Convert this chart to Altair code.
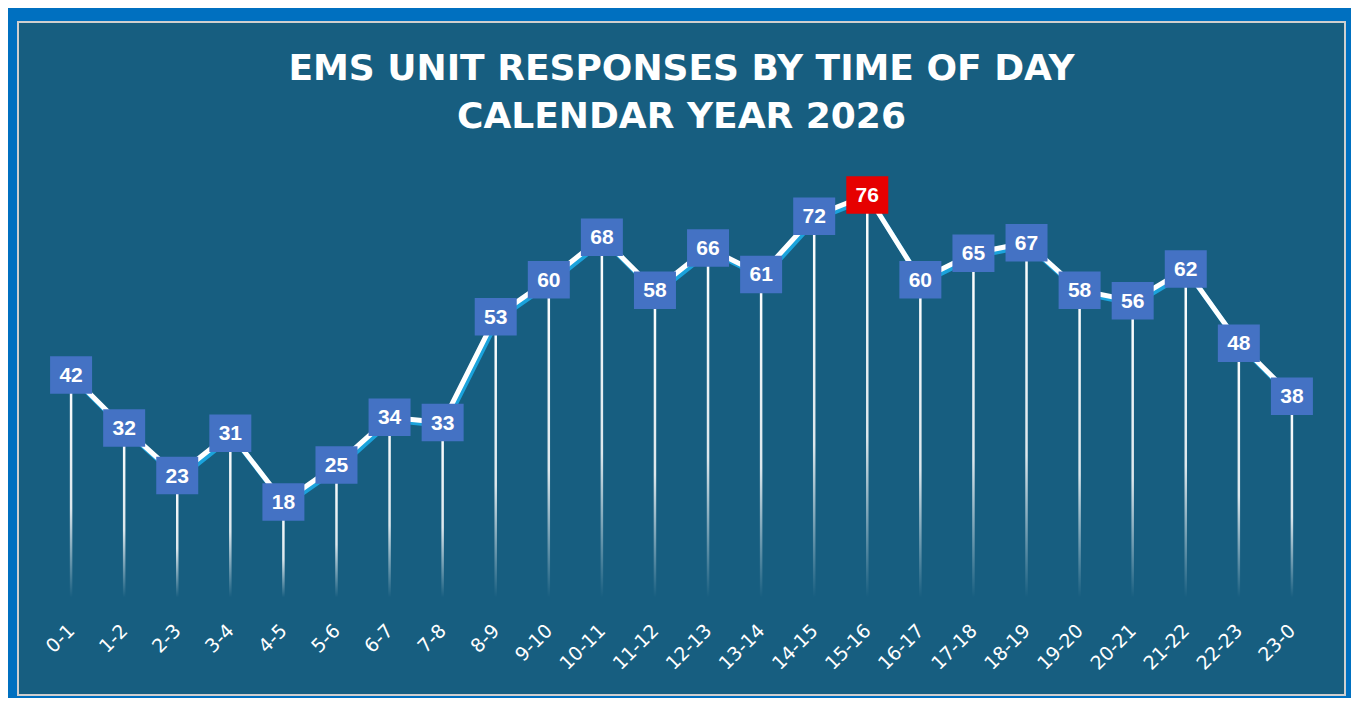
import altair as alt
import pandas as pd

hours = ["0-1", "1-2", "2-3", "3-4", "4-5", "5-6", "6-7", "7-8", "8-9", "9-10",
         "10-11", "11-12", "12-13", "13-14", "14-15", "15-16", "16-17", "17-18",
         "18-19", "19-20", "20-21", "21-22", "22-23", "23-0"]
responses = [42, 32, 23, 31, 18, 25, 34, 33, 53, 60, 68, 58, 66, 61, 72, 76,
             60, 65, 67, 58, 56, 62, 48, 38]
title_lines = ["EMS UNIT RESPONSES BY TIME OF DAY", "CALENDAR YEAR 2026"]

df = pd.DataFrame({"hour": hours, "value": responses})
peak = max(responses)
df["is_peak"] = df["value"] == peak

W, H = 1327, 673

x = alt.X("hour:O", sort=hours,
          scale=alt.Scale(type="point", padding=1.05),
          axis=alt.Axis(title=None, labelAngle=-45, labelColor="white",
                        labelFont="DejaVu Sans", labelFontSize=19,
                        labelAlign="right", labelBaseline="middle",
                        labelPadding=30, domain=False, ticks=False,
                        offset=-97.7, grid=False))
y = alt.Y("value:Q", scale=alt.Scale(domain=[-18.46, 108.68], nice=False, zero=False),
          axis=None)

base = alt.Chart(df)

drop = base.mark_bar(
    width=2.5,
    color=alt.Gradient(
        gradient="linear", x1=0, x2=0, y1=0, y2=1,
        stops=[alt.GradientStop(color="rgba(255,255,255,1)", offset=0),
               alt.GradientStop(color="rgba(255,255,255,0.85)", offset=0.6),
               alt.GradientStop(color="rgba(255,255,255,0)", offset=1)])
).encode(x=x, y=y, y2=alt.datum(0))

shadow = base.mark_line(color="#1BA3DC", strokeWidth=5, xOffset=2, yOffset=3).encode(x=x, y=y)
line = base.mark_line(color="#FFFFFF", strokeWidth=5).encode(x=x, y=y)

boxes = base.mark_point(
    shape="M-1.12,-1L1.12,-1L1.12,1L-1.12,1Z", size=1406, filled=True,
    opacity=1, strokeWidth=0
).encode(
    x=x, y=y,
    color=alt.Color("is_peak:N", scale=alt.Scale(domain=[False, True], range=["#4472C4", "#E60000"]),
                    legend=None)
)

labels = base.mark_text(
    color="white", font="Liberation Sans", fontWeight="bold", fontSize=21,
    baseline="middle", align="center", dy=1
).encode(x=x, y=y, text="value:Q")

title = alt.Chart(pd.DataFrame({"k": [0]})).mark_text(
    text=title_lines, font="DejaVu Sans", fontWeight="bold", fontSize=36,
    color="white", align="center", baseline="alphabetic", lineHeight=48
).encode(x=alt.value(W / 2), y=alt.value(58))

chart = alt.layer(drop, shadow, line, boxes, labels, title).properties(
    width=W, height=H,
    padding={"left": 10, "top": 14, "right": 6, "bottom": 3},
    autosize=alt.AutoSizeParams(type="none"),
    background="#0070C0",
).configure_view(fill="#175E80", stroke="#CFCFCF", strokeWidth=2)

chart.save("out.html", embed_options={"renderer": "svg", "actions": False})
